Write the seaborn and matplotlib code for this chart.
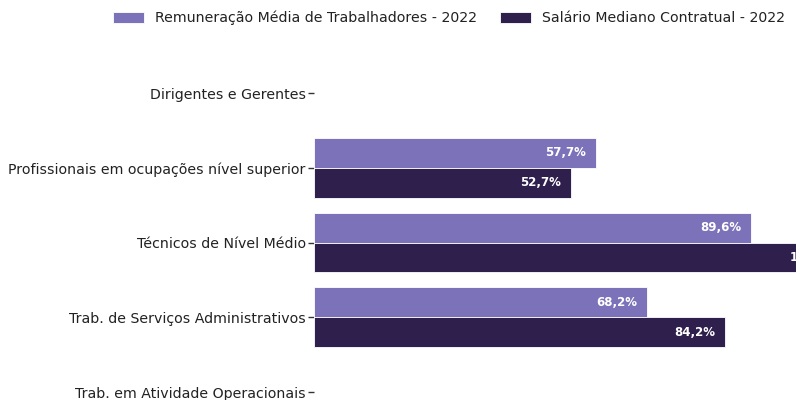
import numpy as np
import pandas as pd
import matplotlib
matplotlib.use("Agg")
import matplotlib.pyplot as plt
import seaborn as sns

categories = [
    "Dirigentes e Gerentes",
    "Profissionais em ocupações nível superior",
    "Técnicos de Nível Médio",
    "Trab. de Serviços Administrativos",
    "Trab. em Atividade Operacionais",
]
series_names = [
    "Remuneração Média de Trabalhadores - 2022",
    "Salário Mediano Contratual - 2022",
]
remuneracao = [np.nan, 57.7, 89.6, 68.2, np.nan]
salario = [np.nan, 52.7, 109.6, 84.2, np.nan]
colors = ["#7B72B9", "#2E1F4D"]

df = pd.DataFrame({
    "categoria": categories * 2,
    "serie": [series_names[0]] * len(categories) + [series_names[1]] * len(categories),
    "valor": remuneracao + salario,
})

sns.set_style("white")
plt.rcParams["font.family"] = ["DejaVu Sans"]

fig = plt.figure(figsize=(7.96, 4.0), dpi=100)
ax = fig.add_axes([0.3945, -0.0735, 1 - 0.3945, 0.934])

sns.barplot(data=df, y="categoria", x="valor", hue="serie", order=categories,
            hue_order=series_names, palette=colors, orient="h", ax=ax,
            errorbar=None, edgecolor="white", linewidth=0.6, width=0.8,
            saturation=1)

ax.set_xlim(0, 98.8)
ax.set_ylim(4.5, -0.5)
for s in ax.spines.values():
    s.set_visible(False)
ax.set_xlabel("")
ax.set_ylabel("")
ax.set_xticks([])
ax.tick_params(axis="y", length=4, width=1, color="#333333", labelsize=10.2,
               labelcolor="#222222", pad=2, left=True)

for cont in ax.containers:
    for bar in cont:
        w = bar.get_width()
        if np.isnan(w) or w == 0:
            continue
        ax.annotate(f"{w:.1f}%".replace(".", ","),
                    xy=(w, bar.get_y() + bar.get_height() / 2),
                    xytext=(-7, 0), textcoords="offset points",
                    ha="right", va="center", color="white",
                    fontsize=8.5, fontweight="bold", annotation_clip=False)

leg = ax.legend(loc="upper right", bbox_to_anchor=(1.0, 1.0),
                bbox_transform=fig.transFigure, ncol=2, frameon=False,
                fontsize=10.2, handlelength=2.2, handleheight=0.8,
                columnspacing=1.6, handletextpad=0.8, borderaxespad=0.35)
for t in leg.get_texts():
    t.set_color("#222222")

fig.savefig("out.png", dpi=100)
